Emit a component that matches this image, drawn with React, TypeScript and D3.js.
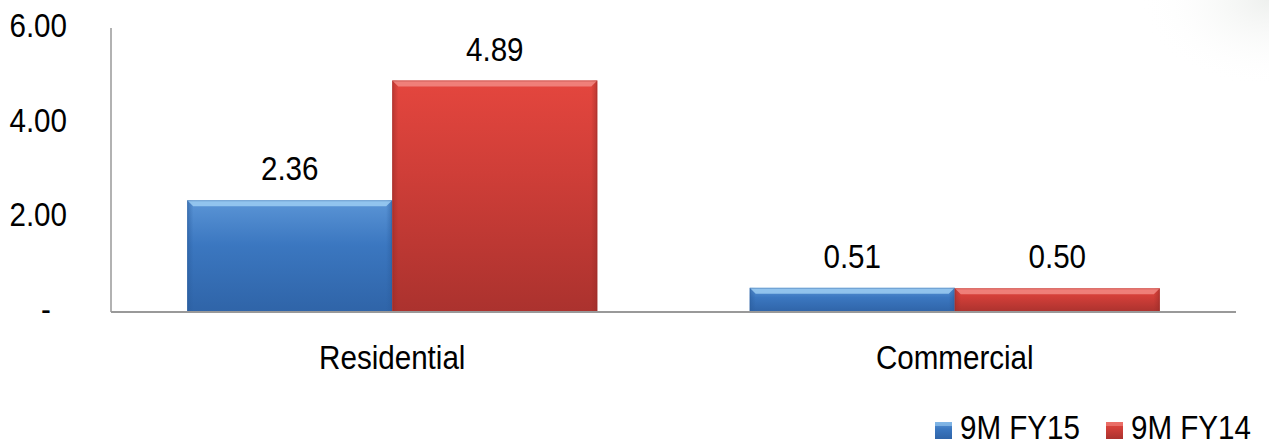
import React from "react";
import * as d3 from "d3";

// Categories, series and values
const categories = ["Residential", "Commercial"];
const seriesNames = ["9M FY15", "9M FY14"];
const fy15Values = [2.36, 0.51];
const fy14Values = [4.89, 0.5];
const yTicks = [0, 2, 4, 6];
const yTickLabels = ["-", "2.00", "4.00", "6.00"];

const W = 1269;
const H = 448;
const FONT = "'Liberation Sans', Arial, sans-serif";
const FONT_SIZE = 34;
const NARROW = 0.87;

const palette = [
  { top: "#5b95d6", mid: "#3b77c0", bottom: "#2f64a8", light: "#9ccdf2", edge: "#2a5c9c" },
  { top: "#e4463e", mid: "#cf3e38", bottom: "#ab322e", light: "#f28a84", edge: "#9a2c28" },
];

// Slightly condensed text, as in the original deck typography
function Label({
  x,
  y,
  anchor = "start",
  size = FONT_SIZE,
  children,
}: {
  x: number;
  y: number;
  anchor?: "start" | "middle" | "end";
  size?: number;
  children: React.ReactNode;
}) {
  return (
    <text
      transform={`translate(${x},${y}) scale(${NARROW},1)`}
      textAnchor={anchor}
      fontSize={size}
      fill="#000"
    >
      {children}
    </text>
  );
}

export default function App() {
  const x0 = d3
    .scaleBand<string>()
    .domain(categories)
    .range([111, 1236])
    .paddingInner(0.271)
    .paddingOuter(0.1355);
  const x1 = d3.scaleBand<string>().domain(seriesNames).range([0, x0.bandwidth()]);
  const y = d3.scaleLinear().domain([0, 6]).range([312, 28]);

  const rows = categories.map((c, i) => ({
    category: c,
    values: [fy15Values[i], fy14Values[i]],
  }));

  return (
    <svg
      width={W}
      height={H}
      style={{ position: "fixed", left: 0, top: 0, background: "#fff" }}
      fontFamily={FONT}
    >
      <defs>
        {palette.map((p, i) => (
          <linearGradient key={i} id={`body${i}`} x1="0" y1="0" x2="0" y2="1">
            <stop offset="0%" stopColor={p.top} />
            <stop offset="40%" stopColor={p.mid} />
            <stop offset="100%" stopColor={p.bottom} />
          </linearGradient>
        ))}
        {palette.map((p, i) => (
          <linearGradient key={`s${i}`} id={`side${i}`} x1="0" y1="0" x2="1" y2="0">
            <stop offset="0%" stopColor={p.edge} stopOpacity={0.55} />
            <stop offset="3%" stopColor={p.edge} stopOpacity={0} />
            <stop offset="97%" stopColor={p.edge} stopOpacity={0} />
            <stop offset="100%" stopColor={p.edge} stopOpacity={0.55} />
          </linearGradient>
        ))}
        <radialGradient id="corner" cx="1" cy="0" r="0.35">
          <stop offset="0%" stopColor="#eef0ee" />
          <stop offset="100%" stopColor="#ffffff" stopOpacity={0} />
        </radialGradient>
      </defs>

      <rect x={900} y={0} width={369} height={250} fill="url(#corner)" />

      {/* bars */}
      {rows.map((r) => (
        <g key={r.category} transform={`translate(${x0(r.category)},0)`}>
          {r.values.map((v, si) => {
            const bx = x1(seriesNames[si])!;
            const bw = x1.bandwidth();
            const by = y(v);
            const bh = y(0) - by;
            const p = palette[si];
            const bevel = Math.min(6, bh / 3);
            return (
              <g key={si}>
                <rect x={bx} y={by} width={bw} height={bh} fill={`url(#body${si})`} />
                <rect x={bx} y={by} width={bw} height={bh} fill={`url(#side${si})`} />
                <polygon
                  points={`${bx},${by} ${bx + bw},${by} ${bx + bw - bevel},${by + bevel} ${bx + bevel},${by + bevel}`}
                  fill={p.light}
                  opacity={0.85}
                />
                <rect
                  x={bx + 0.5}
                  y={by + 0.5}
                  width={bw - 1}
                  height={bh - 1}
                  fill="none"
                  stroke={p.edge}
                  strokeOpacity={0.35}
                />
              </g>
            );
          })}
          {r.values.map((v, si) => (
            <Label
              key={`l${si}`}
              x={x1(seriesNames[si])! + x1.bandwidth() / 2}
              y={y(v) - 20}
              anchor="middle"
            >
              {v.toFixed(2)}
            </Label>
          ))}
        </g>
      ))}

      {/* axes */}
      <line x1={111} x2={111} y1={y(6)} y2={y(0)} stroke="#999" strokeWidth={1.5} />
      <line x1={111} x2={1236} y1={y(0)} y2={y(0)} stroke="#999" strokeWidth={2} />

      {yTicks.map((t, i) => (
        <Label
          key={t}
          x={t === 0 ? 46 : 67}
          y={y(t) + 9}
          anchor={t === 0 ? "middle" : "end"}
        >
          {yTickLabels[i]}
        </Label>
      ))}

      {categories.map((c) => (
        <Label key={c} x={x0(c)! + x0.bandwidth() / 2} y={369} anchor="middle">
          {c}
        </Label>
      ))}

      {/* legend */}
      {seriesNames.map((s, i) => {
        const lx = i === 0 ? 935 : 1106;
        return (
          <g key={s}>
            <rect x={lx} y={422} width={17} height={17} fill={`url(#body${i})`} />
            <rect x={lx} y={422} width={17} height={4} fill={palette[i].light} opacity={0.6} />
            <Label x={lx + 25} y={439} size={34}>
              {s}
            </Label>
          </g>
        );
      })}
    </svg>
  );
}
